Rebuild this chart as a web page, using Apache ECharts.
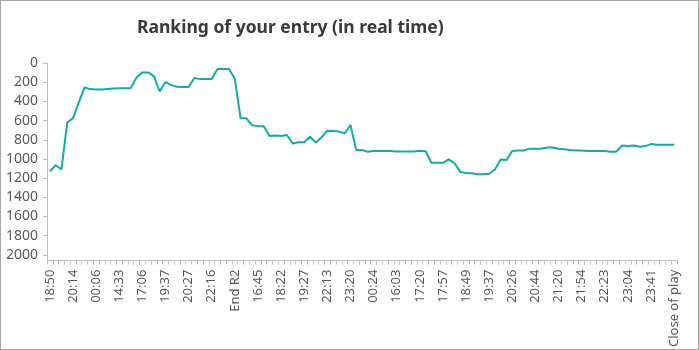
<!DOCTYPE html>
<html>
<head>
<meta charset="utf-8">
<script src="https://cdn.jsdelivr.net/npm/echarts@6/dist/echarts.min.js"></script>
<style>
  html, body { margin: 0; padding: 0; background: #fff; }
  #chart { position: absolute; left: 0; top: 0; width: 699px; height: 350px; }
  #frame { position: absolute; left: 0; top: 0; width: 699px; height: 350px;
           box-sizing: border-box; border: 1px solid #a6a6a6; pointer-events: none; }
</style>
</head>
<body>
<div id="chart"></div>
<div id="frame"></div>
<script>
// Tick labels shown on the time axis (one every 4 snapshots)
const tickLabels = [
  '18:50', '20:14', '00:06', '14:33', '17:06', '19:37', '20:27', '22:16', 'End R2',
  '16:45', '18:22', '19:27', '22:13', '23:20', '00:24', '16:03', '17:20', '17:57',
  '18:49', '19:37', '20:26', '20:44', '21:20', '21:54', '22:23', '23:04', '23:41',
  'Close of play'
];

// Ranking of the entry at each snapshot
const ranking = [
  1130, 1065, 1110, 620, 575, 410, 255, 272, 275, 275,
  270, 265, 262, 262, 262, 150, 98, 98, 140, 297,
  199, 231, 248, 250, 250, 157, 168, 168, 168, 63,
  63, 63, 168, 576, 576, 650, 658, 660, 760, 755,
  760, 750, 838, 825, 825, 768, 830, 775, 705, 710,
  715, 733, 646, 908, 908, 925, 918, 918, 918, 918,
  922, 922, 922, 922, 915, 920, 1040, 1040, 1040, 1005,
  1045, 1135, 1150, 1150, 1160, 1160, 1155, 1110, 1005, 1012,
  918, 911, 911, 894, 894, 894, 880, 880, 894, 900,
  906, 911, 911, 918, 918, 918, 918, 925, 925, 859,
  866, 859, 873, 866, 845, 852, 852, 852, 852
];

// Rank tick values on the reversed value axis
const rankTicks = [0, 200, 400, 600, 800, 1000, 1200, 1400, 1600, 1800, 2000];

const LABEL_EVERY = 4;
const snapshots = ranking.map((_, i) => i);

const chart = echarts.init(document.getElementById('chart'), null, { renderer: 'canvas' });
const axisGrey = '#bfbfbf';
const textGrey = '#595959';
const font = '"Noto Sans", "Open Sans", sans-serif';

chart.setOption({
  animation: false,
  backgroundColor: '#ffffff',
  title: {
    text: 'Ranking of your entry (in real time)',
    left: 132,
    top: 14,
    textStyle: { fontFamily: font, fontSize: 17.5, fontWeight: 'bold', color: '#3a3a3a' }
  },
  grid: { left: 47, right: 22, top: 63, bottom: 89, containLabel: false },
  xAxis: {
    type: 'category',
    data: snapshots,
    boundaryGap: true,
    position: 'bottom',
    axisLine: { onZero: false, lineStyle: { color: axisGrey, width: 1 } },
    axisTick: { show: true, interval: 0, length: 4, lineStyle: { color: axisGrey } },
    axisLabel: {
      interval: LABEL_EVERY - 1,
      rotate: 90,
      margin: 9,
      color: textGrey,
      fontFamily: font,
      fontSize: 13,
      formatter: (v, i) => (i % LABEL_EVERY === 0 ? tickLabels[i / LABEL_EVERY] : '')
    },
    splitLine: { show: false }
  },
  yAxis: {
    type: 'value',
    inverse: true,
    min: 0,
    max: 2060,
    axisLine: { show: true, lineStyle: { color: axisGrey, width: 1 } },
    axisTick: { show: true, length: 4, lineStyle: { color: axisGrey }, customValues: rankTicks },
    axisLabel: {
      color: textGrey,
      fontFamily: font,
      fontSize: 14,
      margin: 9,
      customValues: rankTicks,
      formatter: (v) => String(v)
    },
    splitLine: { show: false }
  },
  series: [{
    type: 'line',
    data: ranking,
    symbol: 'none',
    smooth: false,
    lineStyle: { color: '#14aaa5', width: 2 },
    itemStyle: { color: '#14aaa5' }
  }]
});
</script>
</body>
</html>
